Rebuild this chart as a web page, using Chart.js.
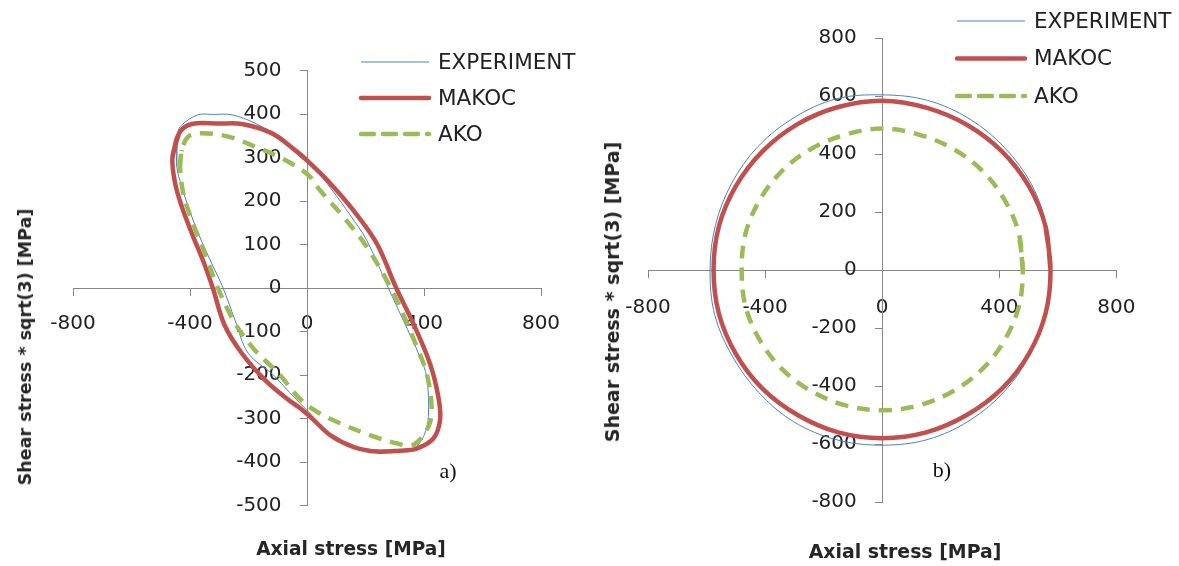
<!DOCTYPE html>
<html>
<head>
<meta charset="utf-8">
<script src="https://cdn.jsdelivr.net/npm/chart.js@4.4.0/dist/chart.umd.min.js"></script>
<style>
  body { margin: 0; background: #fff; width: 1179px; height: 566px; position: relative; overflow: hidden; font-family: 'DejaVu Sans', sans-serif; color: #222; }
  canvas { position: absolute; top: 0; }
  .xtitle, .ytitle { position: absolute; font-weight: bold; white-space: nowrap; color: #262626; }
  .xtitle { transform: translate(-50%, -50%); }
  .ytitle { transform: translate(-50%, -50%) rotate(-90deg); }
  .tag { position: absolute; font-family: 'Liberation Serif', serif; font-size: 22px; transform: translate(-50%, -50%); color: #111; }
</style>
</head>
<body>
<canvas id="chartA" width="590" height="566" style="left:0"></canvas>
<canvas id="chartB" width="589" height="566" style="left:590px"></canvas>

<div class="ytitle" style="left:25px; top:347px; font-size:17.5px">Shear stress * sqrt(3) [MPa]</div>
<div class="xtitle" style="left:351px; top:548px; font-size:18.6px">Axial stress [MPa]</div>
<div class="tag" style="left:448px; top:471px">a)</div>

<div class="ytitle" style="left:612px; top:292px; font-size:19px">Shear stress * sqrt(3) [MPa]</div>
<div class="xtitle" style="left:905px; top:551px; font-size:18.9px">Axial stress [MPa]</div>
<div class="tag" style="left:942px; top:470px">b)</div>

<script>
// series names
const seriesNames = ['EXPERIMENT', 'MAKOC', 'AKO'];

// ---- chart a) : non-proportional path ----
const expA_x = [-445, -442, -428, -373, -320, -256, -178, -98, -45, 4, 22, 85, 147, 204, 278, 329, 386, 409, 415, 398, 363, 300, 200, 101, 10, -60, -115, -201, -246, -290, -326, -372, -406, -428, -445];
const expA_y = [279, 356, 375, 398, 399, 398, 379, 348, 323, 294, 279, 226, 168, 110, 0, -74, -158, -204, -295, -342, -369, -372, -370, -349, -288, -240, -200, -150, -74, 5, 57, 126, 187, 233, 279];

const makocA_x = [-460, -438, -394, -300, -223, -121, -41, 10, 79, 158, 238, 305, 363, 420, 449, 455, 432, 375, 318, 238, 158, 79, 22, -24, -64, -144, -223, -282, -322, -352, -394, -428, -451, -460];
const makocA_y = [300, 355, 377, 378, 377, 356, 317, 287, 241, 179, 103, 0, -81, -173, -250, -303, -346, -369, -374, -376, -365, -338, -303, -276, -257, -211, -150, -85, 0, 57, 126, 187, 241, 300];

const akoA_x = [-434, -428, -406, -360, -269, -178, -86, 4, 44, 124, 204, 284, 335, 375, 409, 426, 415, 363, 307, 215, 113, 33, -24, -98, -178, -246, -309, -349, -394, -423, -434];
const akoA_y = [279, 317, 348, 356, 348, 325, 298, 260, 225, 164, 95, 3, -70, -135, -196, -273, -319, -361, -357, -338, -311, -284, -255, -196, -143, -81, 7, 80, 156, 218, 279];

const ticksA_x = [-800, -400, 0, 400, 800];
const ticksA_y = [-500, -400, -300, -200, -100, 0, 100, 200, 300, 400, 500];

// ---- chart b) : circular path ----
const expB_x = [572, 560, 510, 420, 300, 155, 0, -157, -302, -425, -515, -570, -588, -572, -512, -422, -303, -157, 0, 157, 300, 418, 505, 557, 572];
const expB_y = [0, 155, 295, 420, 520, 585, 604, 590, 525, 425, 297, 153, 0, -155, -297, -422, -523, -585, -604, -584, -518, -418, -292, -150, 0];

const makocB_x = [575, 558, 501, 409, 289, 150, 0, -150, -289, -409, -500, -558, -576, -558, -500, -409, -289, -150, 0, 150, 289, 409, 501, 558, 575];
const makocB_y = [0, 150, 289, 409, 501, 560, 584, 562, 503, 409, 289, 150, 0, -150, -289, -409, -500, -560, -580, -560, -500, -409, -289, -150, 0];

const akoB_x = [480, 467, 418, 342, 242, 125, 0, -125, -242, -342, -418, -467, -480, -467, -418, -342, -242, -125, 0, 125, 242, 342, 418, 467, 480];
const akoB_y = [0, 125, 242, 342, 418, 467, 488, 467, 418, 342, 242, 125, 0, -125, -242, -342, -418, -467, -484, -467, -418, -342, -242, -125, 0];

const ticksB_x = [-800, -400, 0, 400, 800];
const ticksB_y = [-800, -600, -400, -200, 0, 200, 400, 600, 800];

Chart.defaults.font.family = 'DejaVu Sans';
Chart.defaults.font.size = 20;
Chart.defaults.color = '#222';

// closed loops: repeat the 2nd point at the end so the curve closes smoothly
function toPoints(xs, ys) {
  const pts = xs.map((x, i) => ({ x: x, y: ys[i] }));
  pts.push(pts[1]);
  return pts;
}

// legend drawn inside the plot, like the original figure
const lineLegend = {
  id: 'lineLegend',
  afterDraw(chart, args, opts) {
    const ctx = chart.ctx;
    chart.data.datasets.forEach((ds, i) => {
      const y = opts.y + i * opts.gap;
      ctx.save();
      ctx.strokeStyle = ds.borderColor;
      ctx.lineWidth = ds.borderWidth;
      ctx.setLineDash(ds.borderDash || []);
      ctx.lineCap = ds.borderWidth > 2 ? 'round' : 'butt';
      ctx.beginPath();
      ctx.moveTo(opts.x, y);
      ctx.lineTo(opts.x + opts.len, y);
      ctx.stroke();
      ctx.fillStyle = '#222';
      ctx.font = opts.fontSize + 'px "DejaVu Sans"';
      ctx.textBaseline = 'middle';
      ctx.fillText(ds.label, opts.x + opts.len + opts.pad, y + 1);
      ctx.restore();
    });
  }
};

function makeDatasets(exp, makoc, ako) {
  return [
    { label: seriesNames[0], data: exp, borderColor: '#4F81BD', borderWidth: 1, order: 3 },
    { label: seriesNames[1], data: makoc, borderColor: '#C0504D', borderWidth: 4.5, order: 2 },
    { label: seriesNames[2], data: ako, borderColor: '#9BBB59', borderWidth: 4.5, borderDash: [13, 9], order: 1 }
  ];
}

function axis(min, max, tickList, pos, pad, isY) {
  return {
    type: 'linear',
    min: min,
    max: max,
    position: pos,
    afterBuildTicks: s => { s.ticks = tickList.map(v => ({ value: v })); },
    grid: { drawOnChartArea: false, color: '#868686', tickLength: 7 },
    border: { color: '#868686', width: 1 },
    // y labels on a crossing axis ignore padding, so keep a gap with trailing spaces
    ticks: { padding: pad, color: '#222', callback: v => isY ? v + '    ' : String(v) }
  };
}

function makeChart(id, datasets, xr, yr, xt, yt, padding, legendOpts, xpad) {
  return new Chart(document.getElementById(id), {
    type: 'scatter',
    data: { datasets: datasets },
    options: {
      responsive: false,
      animation: false,
      layout: { padding: padding },
      elements: {
        point: { radius: 0 },
        line: { tension: 0.35, fill: false }
      },
      datasets: { scatter: { showLine: true } },
      scales: {
        x: axis(xr[0], xr[1], xt, { y: 0 }, xpad, false),
        y: axis(yr[0], yr[1], yt, { x: 0 }, 0, true)
      },
      plugins: {
        legend: { display: false },
        tooltip: { enabled: false },
        lineLegend: legendOpts
      }
    },
    plugins: [lineLegend]
  });
}

makeChart('chartA',
  makeDatasets(toPoints(expA_x, expA_y), toPoints(makocA_x, makocA_y), toPoints(akoA_x, akoA_y)),
  [-800, 800], [-500, 500], ticksA_x, ticksA_y,
  { left: 73, right: 49, top: 70.5, bottom: 60.5 },
  { x: 361, len: 68, pad: 9, y: 62, gap: 36, fontSize: 21.5 },
  17);

makeChart('chartB',
  makeDatasets(toPoints(expB_x, expB_y), toPoints(makocB_x, makocB_y), toPoints(akoB_x, akoB_y)),
  [-800, 800], [-800, 800], ticksB_x, ticksB_y,
  { left: 58, right: 62.6, top: 38, bottom: 64 },
  { x: 367, len: 68, pad: 9, y: 21, gap: 37.5, fontSize: 21.5 },
  19);
</script>
</body>
</html>
